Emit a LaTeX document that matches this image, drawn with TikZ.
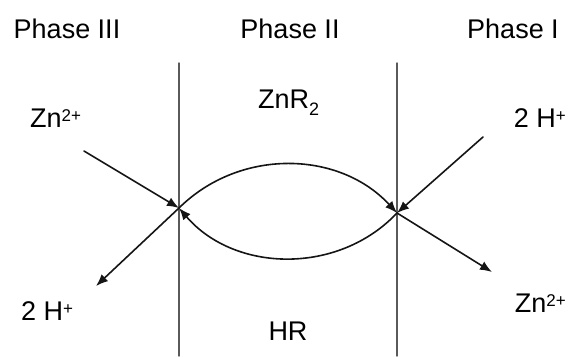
\documentclass[tikz,border=0pt]{standalone}
\usepackage{fontspec}
\setmainfont{Liberation Sans}
\usepackage{xcolor}
\usepackage{tikz}
\usetikzlibrary{arrows.meta}
\definecolor{phasegrey}{HTML}{5A5A5A}
\definecolor{fluxblack}{HTML}{151515}
\newcommand{\ionsup}[1]{\raisebox{5.4pt}{\fontsize{17}{17}\selectfont #1}}
\newcommand{\ionsub}[1]{\raisebox{-7pt}{\fontsize{18}{18}\selectfont #1}}

\begin{document}
\begin{tikzpicture}[x=1pt, y=1pt, line cap=round, line join=round,
    lbl/.style={inner sep=0pt, font=\fontsize{27}{32}\selectfont},
    flux/.style={fluxblack, line width=1.6, -{Latex[length=12pt,width=9.5pt]}}]
  \useasboundingbox (0,0) rectangle (570,-356);
  % phase boundaries
  \coordinate (ltop) at (179,-63);
  \coordinate (lbot) at (179,-356);
  \coordinate (rtop) at (397,-63);
  \coordinate (rbot) at (397,-356);
  \draw[phasegrey, line width=1.4] (ltop) -- (lbot);
  \draw[phasegrey, line width=1.4] (rtop) -- (rbot);
  % junctions + free ends
  \coordinate (jl) at (179,-208);
  \coordinate (jr) at (397,-213);
  \coordinate (znin) at (84,-151);
  \coordinate (hout) at (96,-286);
  \coordinate (hin) at (483,-137);
  \coordinate (znout) at (492,-272);
  % labels
  \node[lbl, anchor=base] (ph3) at (67,-38) {Phase III};
  \node[lbl, anchor=base] (ph2) at (290,-38) {Phase II};
  \node[lbl, anchor=base] (ph1) at (513,-38) {Phase I};
  \node[lbl, anchor=base west] (znr) at (258,-108) {ZnR\ionsub{2}};
  \node[lbl, anchor=base] (hr) at (288,-340) {HR};
  \node[lbl, anchor=base west] (znl) at (30,-127) {Zn\ionsup{2+}};
  \node[lbl, anchor=base west] (hl) at (21,-320) {2 H\ionsup{+}};
  \node[lbl, anchor=base east] (hrt) at (566,-127) {2 H\ionsup{+}};
  \node[lbl, anchor=base east] (znrt) at (566,-312) {Zn\ionsup{2+}};
  % fluxes
  \draw[flux] (znin) -- (jl);
  \draw[flux] (jl) -- (hout);
  \draw[flux] (hin) -- (jr);
  \draw[flux] (jr) -- (znout);
  \draw[flux] (jl) to[bend left=46] (jr);
  \draw[flux] (jr) to[bend left=48] (jl);
\end{tikzpicture}
\end{document}
